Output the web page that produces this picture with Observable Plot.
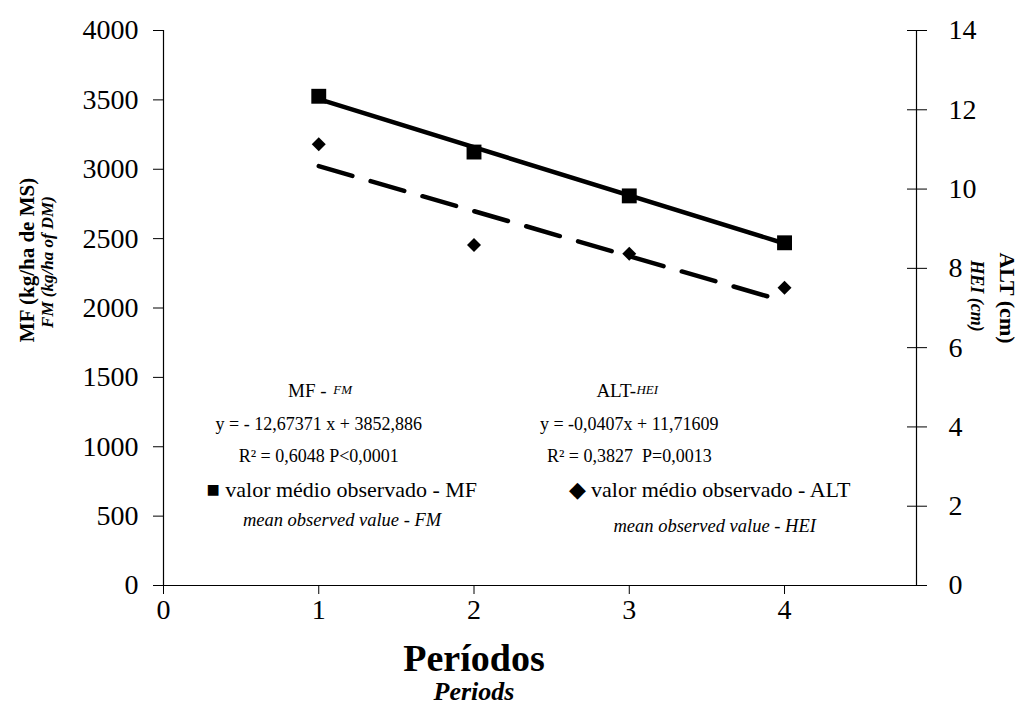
<!DOCTYPE html>
<html>
<head>
<meta charset="utf-8">
<script src="https://cdn.jsdelivr.net/npm/d3@7"></script>
<script src="https://cdn.jsdelivr.net/npm/@observablehq/plot@0.6"></script>
<style>
  html, body { margin: 0; padding: 0; background: #fff; }
  #chart svg { display: block; }
</style>
</head>
<body>
<div id="chart"></div>
<script>
// Mean forage mass (MF, kg/ha DM) and sward height (ALT, cm) per grazing period
const periods = [1, 2, 3, 4];
const mfMean = [3526, 3124, 2808, 2470];
const altMean = [11.13, 8.59, 8.37, 7.51];

// Fitted trend lines, evaluated at the first and last period
const trendPeriods = [1, 4];
const mfTrend = [3505, 2465];
const altTrend = [10.58, 7.17];

// Axis ticks
const periodTicks = [0, 1, 2, 3, 4];
const mfTicks = [0, 500, 1000, 1500, 2000, 2500, 3000, 3500, 4000];
const altTicks = [0, 2, 4, 6, 8, 10, 12, 14];

// Regression annotations
const mfEquation = "y = - 12,67371 x + 3852,886";
const mfFit = "R² = 0,6048 P<0,0001";
const altEquation = "y = -0,0407x + 11,71609";
const altFit = "R² = 0,3827  P=0,0013";

// The height axis (right) shares the frame with the forage mass axis (left)
const MF_MAX = 4000, ALT_MAX = 14, X_MAX = 4.85;
const k = MF_MAX / ALT_MAX;

const mfPoints = periods.map((p, i) => ({period: p, value: mfMean[i]}));
const altPoints = periods.map((p, i) => ({period: p, value: altMean[i] * k}));
const mfLine = trendPeriods.map((p, i) => ({period: p, value: mfTrend[i]}));
const altLine = trendPeriods.map((p, i) => ({period: p, value: altTrend[i] * k}));

const serif = '"Liberation Serif", "Times New Roman", Times, serif';

const chart = Plot.plot({
  width: 1022,
  height: 704,
  marginLeft: 163,
  marginRight: 106,
  marginTop: 30,
  marginBottom: 119,
  x: {domain: [0, X_MAX]},
  y: {domain: [0, MF_MAX]},
  style: {fontFamily: serif, color: "#000", background: "#fff", overflow: "visible"},
  marks: [
    // frame: left, right and bottom lines
    Plot.ruleX([0], {stroke: "#000", strokeWidth: 1.2}),
    Plot.ruleX([X_MAX], {stroke: "#000", strokeWidth: 1.2}),
    Plot.ruleY([0], {stroke: "#000", strokeWidth: 1.2}),

    // left axis
    Plot.axisY(mfTicks, {anchor: "left", tickSize: 10, tickPadding: 15, fontSize: 28, label: null, tickFormat: d => String(d)}),
    // right axis: ticks crossing the line
    Plot.axisY(altTicks.map(v => v * k), {anchor: "right", tickSize: 10, tickPadding: 22, fontSize: 28, label: null,
      tickFormat: d => String(Math.round(d / k))}),
    Plot.axisY(altTicks.map(v => v * k), {anchor: "right", tickSize: 10, dx: -10, label: null, tickFormat: () => ""}),
    // bottom axis
    Plot.axisX(periodTicks, {anchor: "bottom", tickSize: 9, tickPadding: 5, fontSize: 28, label: null, tickFormat: d => String(d)}),

    // trend lines
    Plot.line(mfLine, {x: "period", y: "value", stroke: "#000", strokeWidth: 4.5}),
    Plot.line(altLine, {x: "period", y: "value", stroke: "#000", strokeWidth: 4.5, strokeDasharray: "35,19"}),

    // observed means
    Plot.dot(mfPoints, {x: "period", y: "value", symbol: "square", r: 8.4, fill: "#000", stroke: "none"}),
    Plot.dot(altPoints, {x: "period", y: "value", symbol: "diamond2", r: 6.3, fill: "#000", stroke: "none"}),

    // left axis title
    Plot.text(["MF (kg/ha de MS)"], {frameAnchor: "left", rotate: -90, textAnchor: "middle", dx: -136, dy: -48, fontSize: 21, fontWeight: "bold"}),
    Plot.text(["FM (kg/ha of DM)"], {frameAnchor: "left", rotate: -90, textAnchor: "middle", dx: -116, dy: -46, fontSize: 17, fontWeight: "bold", fontStyle: "italic"}),
    // right axis title
    Plot.text(["ALT (cm)"], {frameAnchor: "right", rotate: 90, textAnchor: "middle", dx: 91, dy: -10, fontSize: 22, fontWeight: "bold"}),
    Plot.text(["HEI (cm)"], {frameAnchor: "right", rotate: 90, textAnchor: "middle", dx: 60, dy: -12, fontSize: 18, fontWeight: "bold", fontStyle: "italic"}),
    // bottom axis title
    Plot.text(["Períodos"], {x: [2], frameAnchor: "bottom", dy: 85, fontSize: 38, fontWeight: "bold"}),
    Plot.text(["Periods"], {x: [2], frameAnchor: "bottom", dy: 114, fontSize: 26, fontWeight: "bold", fontStyle: "italic"}),

    // regression annotations
    Plot.text(["MF - "], {x: [1], frameAnchor: "top", dy: 353, dx: -9, fontSize: 19}),
    Plot.text(["FM"], {x: [1], frameAnchor: "top", dy: 354, dx: 24, fontSize: 13, fontStyle: "italic"}),
    Plot.text([mfEquation], {x: [1], frameAnchor: "top", dy: 387, fontSize: 18}),
    Plot.text([mfFit], {x: [1], frameAnchor: "top", dy: 419, fontSize: 18}),
    Plot.text(["ALT-"], {x: [3], frameAnchor: "top", dy: 353, dx: -13, fontSize: 19}),
    Plot.text(["HEI"], {x: [3], frameAnchor: "top", dy: 354, dx: 18, fontSize: 13, fontStyle: "italic"}),
    Plot.text([altEquation], {x: [3], frameAnchor: "top", dy: 387, fontSize: 18}),
    Plot.text([altFit], {x: [3], frameAnchor: "top", dy: 419, fontSize: 18}),

    // legend
    Plot.text(["■ valor médio observado - MF"], {frameAnchor: "bottom-left", dx: 43, dy: -89, textAnchor: "start", fontSize: 22}),
    Plot.text(["mean observed value - FM"], {x: [1.15], frameAnchor: "bottom", dy: -60, fontSize: 18.5, fontStyle: "italic"}),
    Plot.text(["◆ valor médio observado - ALT"], {frameAnchor: "bottom-left", dx: 405, dy: -89, textAnchor: "start", fontSize: 22}),
    Plot.text(["mean observed value - HEI"], {x: [3.55], frameAnchor: "bottom", dy: -54, fontSize: 18.5, fontStyle: "italic"})
  ]
});

document.getElementById("chart").appendChild(chart);
</script>
</body>
</html>
